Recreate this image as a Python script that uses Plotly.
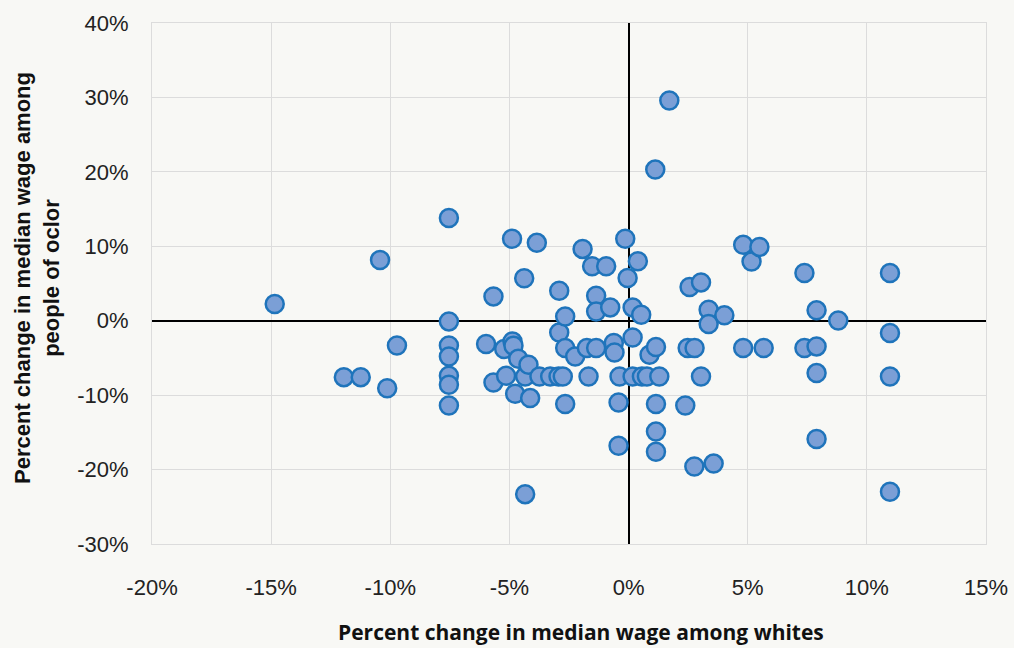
import plotly.graph_objects as go

# Percent change in median wage among whites (x) and people of color (y)
white_change = [
    -14.85, -10.43, -11.95, -11.24, -10.13, -9.72,
    -7.54, -7.54, -7.54, -7.54, -7.54, -7.54, -7.54,
    -5.98, -5.67, -5.67, -5.22, -5.14, -4.89, -4.87, -4.83, -4.76, -4.63,
    -4.38, -4.34, -4.34, -4.20, -4.13, -3.85, -3.74, -3.29, -2.94, -2.91,
    -2.91, -2.76, -2.66, -2.66, -2.66, -2.24, -1.93, -1.75, -1.68, -1.53,
    -1.36, -1.36, -1.36, -0.94, -0.77, -0.62, -0.59, -0.42, -0.42, -0.38,
    -0.14, -0.04, 0.17, 0.17, 0.17, 0.39, 0.53, 0.56, 0.77, 0.88, 1.12,
    1.15, 1.15, 1.15, 1.15, 1.29, 1.71, 2.38, 2.48, 2.56, 2.76, 2.77,
    3.04, 3.04, 3.36, 3.36, 3.57, 4.02, 4.81, 4.81, 5.16, 5.49, 5.67,
    7.38, 7.38, 7.89, 7.89, 7.89, 7.89, 8.80, 10.97, 10.97, 10.97, 10.97,
]
color_change = [
    2.25, 8.17, -7.58, -7.58, -9.06, -3.32,
    13.8, -0.09, -3.32, -4.8, -7.4, -8.6, -11.4,
    -3.14, 3.27, -8.3, -3.81, -7.4, 11.0, -2.78, -3.36, -9.8, -5.11,
    5.7, -7.5, -23.3, -5.92, -10.4, 10.46, -7.5, -7.5, -7.5, 4.04,
    -1.57, -7.5, 0.58, -3.68, -11.2, -4.8, 9.65, -3.68, -7.5, 7.31,
    3.36, 1.25, -3.68, 7.31, 1.79, -3.0, -4.26, -11.0, -16.8, -7.5,
    11.0, 5.74, 1.79, -2.25, -7.5, 7.98, 0.81, -7.5, -7.5, -4.58, 20.3,
    -3.54, -11.2, -14.9, -17.6, -7.5, 29.6, -11.4, -3.68, 4.53, -19.6, -3.68,
    5.15, -7.5, 1.48, -0.45, -19.2, 0.72, 10.19, -3.68, 7.94, 9.92, -3.68,
    6.42, -3.68, 1.39, -3.45, -7.04, -15.9, 0.04, 6.42, -1.66, -7.5, -22.97,
]

x_tickvals = [-20, -15, -10, -5, 0, 5, 10, 15]
x_ticktext = ["-20%", "-15%", "-10%", "-5%", "0%", "5%", "10%", "15%"]
y_tickvals = [-30, -20, -10, 0, 10, 20, 30, 40]
y_ticktext = ["-30%", "-20%", "-10%", "0%", "10%", "20%", "30%", "40%"]

x_title = "Percent change in median wage among whites"
y_title = "Percent change in median wage among<br>people of oclor"

BG = "#f8f8f5"
GRID = "#dcdcdc"

fig = go.Figure(
    go.Scatter(
        x=white_change,
        y=color_change,
        mode="markers",
        marker=dict(size=18, color="#7b9fd6", line=dict(color="#1f74bb", width=2.5)),
        hoverinfo="x+y",
    )
)

fig.update_layout(
    width=1014,
    height=648,
    paper_bgcolor=BG,
    plot_bgcolor=BG,
    margin=dict(l=152, r=28, t=23, b=104),
    showlegend=False,
    font=dict(family="Liberation Sans, Arial, sans-serif", color="#222222"),
    annotations=[
        dict(
            text="<b>" + x_title + "</b>",
            xref="paper", yref="paper", x=(581 - 152) / 834, y=-(632 - 544) / 521,
            xanchor="center", yanchor="middle", showarrow=False,
            font=dict(family="Open Sans, Liberation Sans, sans-serif", size=21, color="#111111"),
        ),
        dict(
            text="<b>" + y_title + "</b>",
            xref="paper", yref="paper", x=(66 - 152) / 834, y=(544 - 278) / 521,
            xanchor="right", yanchor="middle", showarrow=False,
            textangle=-90, font=dict(size=22, color="#111111"),
        ),
    ],
)

fig.update_xaxes(
    range=[-20, 15], tickvals=x_tickvals, ticktext=x_ticktext, automargin=False,
    showgrid=True, gridcolor=GRID, gridwidth=1,
    zeroline=True, zerolinecolor="#000000", zerolinewidth=2,
    showline=True, linecolor=GRID, linewidth=1, mirror=True,
    ticks="", ticklabelstandoff=24,
    tickfont=dict(size=22, color="#222222"),
)
fig.update_yaxes(
    range=[-30, 40], tickvals=y_tickvals, ticktext=y_ticktext, automargin=False,
    showgrid=True, gridcolor=GRID, gridwidth=1,
    zeroline=True, zerolinecolor="#000000", zerolinewidth=2,
    showline=True, linecolor=GRID, linewidth=1, mirror=True,
    ticks="", ticklabelstandoff=18,
    tickfont=dict(size=22, color="#222222"),
)

fig.write_html(
    "out.html",
    config={"displayModeBar": False},
    post_script="document.body.style.margin='0';document.body.style.background='" + BG + "';",
)
